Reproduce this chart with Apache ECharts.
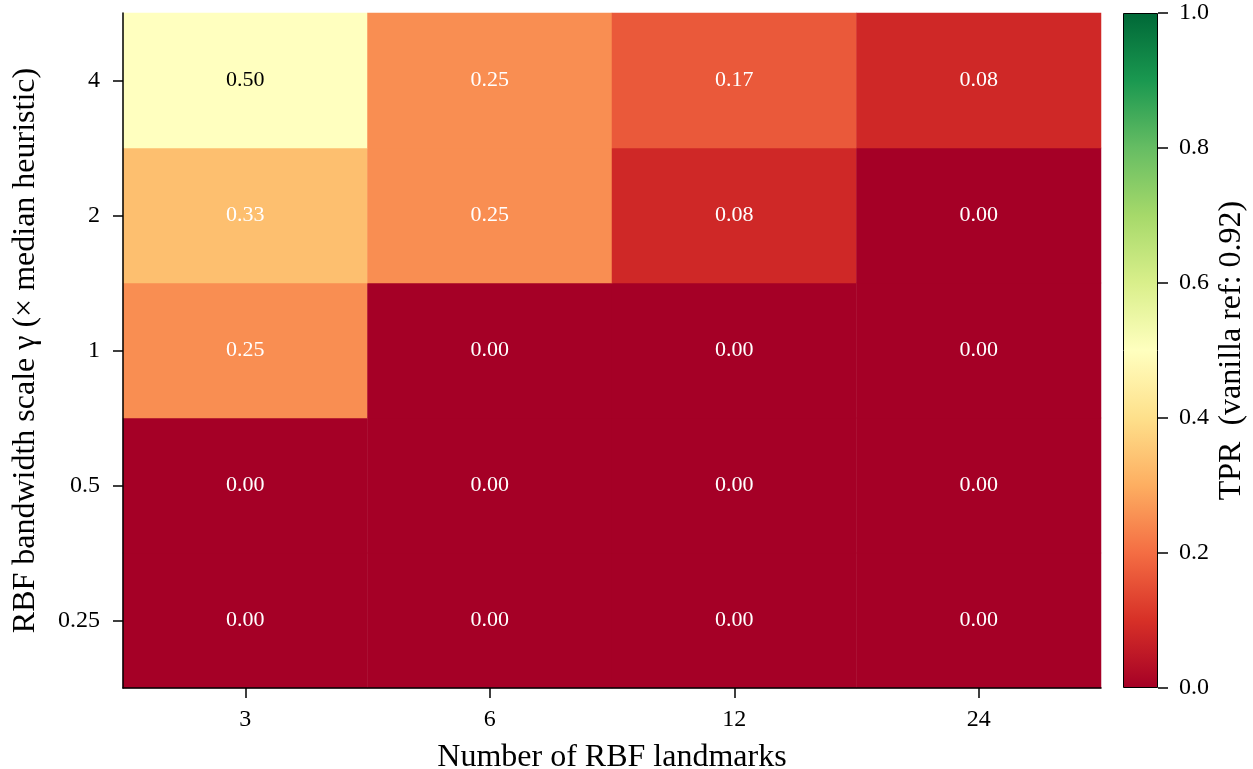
<!DOCTYPE html>
<html>
<head>
<meta charset="utf-8">
<script src="https://cdn.jsdelivr.net/npm/echarts@6/dist/echarts.min.js"></script>
<style>
html,body{margin:0;padding:0;background:#fff;}
#chart{width:1253px;height:769px;}
</style>
</head>
<body>
<div id="chart"></div>
<script>
// data
var landmarks=['3','6','12','24'];
var gammas=['0.25','0.5','1','2','4'];   // bottom -> top
// rows follow gammas order, columns follow landmarks
var row_025=[0,0,0,0];
var row_05=[0,0,0,0];
var row_1=[0.25,0,0,0];
var row_2=[0.333,0.25,0.083,0];
var row_4=[0.5,0.25,0.167,0.083];
var cbTicks=[0,0.2,0.4,0.6,0.8,1.0];
// matplotlib RdYlGn
var rdylgn=['#a50026','#d73027','#f46d43','#fdae61','#fee08b','#ffffbf','#d9ef8b','#a6d96a','#66bd63','#1a9850','#006837'];

var font='"Liberation Serif","DejaVu Serif",serif';
var rows=[row_025,row_05,row_1,row_2,row_4];
var cells=[];
for(var j=0;j<rows.length;j++){
	for(var i=0;i<landmarks.length;i++){
		var v=rows[j][i];
		cells.push({
			value:[i,j,v],
			label:{color:v>=0.4?'#000':'#fff'}
		});
	}
}
var stops=[];
for(var k=0;k<rdylgn.length;k++){
	stops.push({offset:k/(rdylgn.length-1),color:rdylgn[k]});
}

var myChart=echarts.init(document.getElementById('chart'));
var option={
	backgroundColor:'#fff',
	animation:false,
	grid:[
		{left:123,top:13,width:978,height:675,containLabel:false,outerBoundsMode:'none'},
		{left:1123,top:13,width:35,height:675,containLabel:false,outerBoundsMode:'none'}
	],
	xAxis:[
		{
			type:'category',gridIndex:0,data:landmarks,z:10,
			name:'Number of RBF landmarks',nameLocation:'middle',nameGap:54,
			nameTextStyle:{fontFamily:font,fontSize:32,color:'#000'},
			axisLine:{show:true,lineStyle:{color:'#000',width:1.5}},
			axisTick:{show:true,alignWithLabel:true,length:10,lineStyle:{color:'#000',width:1.5}},
			axisLabel:{fontFamily:font,fontSize:24,color:'#000',margin:20},
			splitArea:{show:false},splitLine:{show:false}
		},
		{
			type:'category',gridIndex:1,data:['TPR'],show:false
		}
	],
	yAxis:[
		{
			type:'category',gridIndex:0,data:gammas,z:10,
			name:'RBF bandwidth scale \u03b3 (\u00d7 median heuristic)',nameLocation:'middle',nameGap:81,
			nameTextStyle:{fontFamily:font,fontSize:32,color:'#000'},
			axisLine:{show:true,lineStyle:{color:'#000',width:1.5}},
			axisTick:{show:true,alignWithLabel:true,length:10,lineStyle:{color:'#000',width:1.5}},
			axisLabel:{fontFamily:font,fontSize:24,color:'#000',margin:23},
			splitArea:{show:false},splitLine:{show:false}
		},
		{
			type:'value',gridIndex:1,position:'right',min:0,max:1,interval:0.2,z:10,
			name:'TPR  (vanilla ref: 0.92)',nameLocation:'middle',nameGap:58,nameRotate:90,
			nameTextStyle:{fontFamily:font,fontSize:32,color:'#000'},
			axisLine:{show:false},
			axisTick:{show:true,length:10,lineStyle:{color:'#000',width:1.5}},
			axisLabel:{fontFamily:font,fontSize:24,color:'#000',margin:21,
				formatter:function(v){return v.toFixed(1);}},
			splitLine:{show:false}
		}
	],
	visualMap:{
		type:'continuous',show:false,min:0,max:1,seriesIndex:0,
		inRange:{color:rdylgn}
	},
	series:[
		{
			type:'heatmap',xAxisIndex:0,yAxisIndex:0,data:cells,
			label:{show:true,fontFamily:font,fontSize:22,
				formatter:function(p){return p.value[2].toFixed(2);}},
			itemStyle:{borderWidth:0}
		},
		{
			type:'bar',xAxisIndex:1,yAxisIndex:1,data:[1],barWidth:'100%',
			silent:true,
			itemStyle:{
				color:new echarts.graphic.LinearGradient(0,1,0,0,stops),
				borderColor:'#000',borderWidth:1
			}
		}
	]
};
myChart.setOption(option);
</script>
</body>
</html>
